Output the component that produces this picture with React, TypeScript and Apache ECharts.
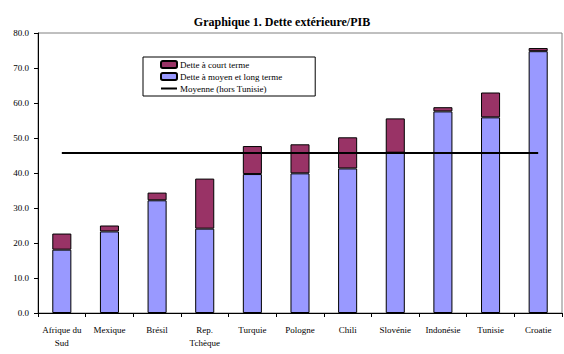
import React, { useEffect, useRef } from "react";
import * as echarts from "echarts";

const categories = [
  "Afrique du\nSud",
  "Mexique",
  "Brésil",
  "Rep.\nTchèque",
  "Turquie",
  "Pologne",
  "Chili",
  "Slovénie",
  "Indonésie",
  "Tunisie",
  "Croatie",
];
const moyenLong = [18.1, 23.3, 32.2, 24.1, 39.7, 39.9, 41.3, 45.8, 57.6, 55.9, 74.8];
const courtTerme = [4.6, 1.7, 2.2, 14.3, 8.0, 8.3, 8.9, 9.8, 1.2, 7.1, 0.9];
const moyenne = [45.7, 45.7, 45.7, 45.7, 45.7, 45.7, 45.7, 45.7, 45.7, 45.7, 45.7];

const FONT = "'Liberation Serif', 'Times New Roman', serif";
const LINE_ICON = "path://M0,0 L16,0 L16,0.01 Z M0,2.5 L16,2.5 L16,4.5 L0,4.5 Z M0,7 L16,7 L16,7.01 Z";

export default function App() {
  const ref = useRef<HTMLDivElement>(null);
  useEffect(() => {
    if (!ref.current) return;
    const chart = echarts.init(ref.current, undefined, { renderer: "svg" });
    chart.setOption({
      animation: false,
      backgroundColor: "#ffffff",
      title: {
        text: "Graphique 1. Dette extérieure/PIB",
        left: "center",
        top: 11,
        textStyle: { fontFamily: FONT, fontSize: 12, fontWeight: "bold", color: "#000" },
      },
      legend: {
        orient: "vertical",
        left: 143,
        top: 57,
        width: 170,
        padding: [3, 33, 3, 17],
        itemGap: 3,
        itemWidth: 16,
        itemHeight: 7,
        borderColor: "#000",
        borderWidth: 1,
        textStyle: { fontFamily: FONT, fontSize: 9, color: "#000", padding: [0, 0, 0, -2] },
        data: [
          { name: "Dette à court terme" },
          { name: "Dette à moyen et long terme" },
          { name: "Moyenne (hors Tunisie)", icon: LINE_ICON, itemStyle: { color: "#000", borderWidth: 0 } },
        ],
      },
      grid: {
        left: 38,
        right: 2,
        top: 33,
        bottom: 41,
        show: true,
        borderColor: "#808080",
        borderWidth: 1,
        containLabel: false,
      },
      xAxis: {
        type: "category",
        data: categories,
        boundaryGap: true,
        axisLine: { lineStyle: { color: "#000", width: 1 } },
        axisTick: { show: true, length: 4, lineStyle: { color: "#000" } },
        axisLabel: {
          fontFamily: FONT,
          fontSize: 9,
          color: "#000",
          interval: 0,
          margin: 10,
          lineHeight: 13,
        },
      },
      yAxis: {
        type: "value",
        min: 0,
        max: 80,
        interval: 10,
        splitLine: { show: false },
        axisLine: { show: true, lineStyle: { color: "#000", width: 1 } },
        axisTick: { show: true, length: 4, lineStyle: { color: "#000" } },
        axisLabel: {
          fontFamily: FONT,
          fontSize: 9,
          color: "#000",
          margin: 9,
          formatter: (v: number) => v.toFixed(1),
        },
      },
      series: [
        {
          name: "Dette à moyen et long terme",
          type: "bar",
          stack: "dette",
          data: moyenLong,
          barWidth: "40%",
          itemStyle: { color: "#9999FF", borderColor: "#000", borderWidth: 1 },
        },
        {
          name: "Dette à court terme",
          type: "bar",
          stack: "dette",
          data: courtTerme,
          barWidth: "40%",
          itemStyle: { color: "#993366", borderColor: "#000", borderWidth: 1 },
        },
        {
          name: "Moyenne (hors Tunisie)",
          type: "line",
          data: moyenne,
          symbol: "none",
          showSymbol: false,
          lineStyle: { color: "#000", width: 2 },
          itemStyle: { color: "#000" },
          z: 5,
        },
      ],
    });
    return () => chart.dispose();
  }, []);
  return <div ref={ref} style={{ width: 564, height: 354, position: "absolute", left: 0, top: 0 }} />;
}
